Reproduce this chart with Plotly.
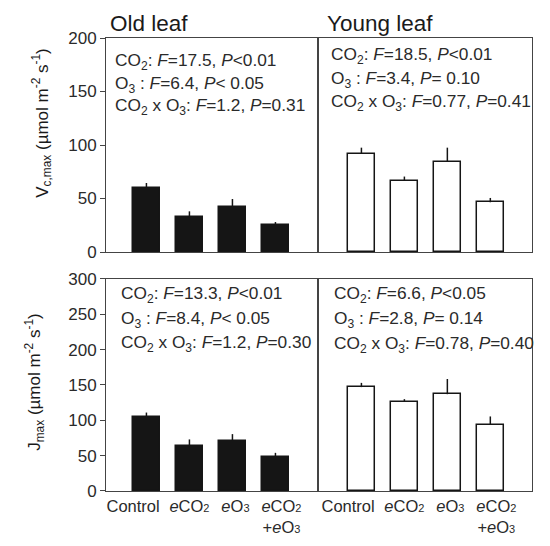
import plotly.graph_objects as go
from plotly.subplots import make_subplots

# -------------------------------------------------------------------
# DATA
# -------------------------------------------------------------------
CATEGORIES = ["Control", "eCO2", "eO3", "eCO2+eO3"]
TICK_LABELS = [
    "Control",
    "<i>e</i>CO<span style='font-size:11px'>2</span>",
    "<i>e</i>O<span style='font-size:11px'>3</span>",
    "<i>e</i>CO<span style='font-size:11px'>2</span><br>+<i>e</i>O<span style='font-size:11px'>3</span>",
]

OLD_VCMAX = [60, 32.5, 42, 25]
OLD_VCMAX_ERR = [4.5, 5.5, 7.5, 3]
YOUNG_VCMAX = [92, 66.5, 84.5, 46.5]
YOUNG_VCMAX_ERR = [5.5, 4, 13, 4]

OLD_JMAX = [105, 63.5, 71, 48.5]
OLD_JMAX_ERR = [6, 9.5, 9.5, 5.5]
YOUNG_JMAX = [147, 126, 137, 94]
YOUNG_JMAX_ERR = [6, 4, 21.5, 11.5]

STATS_OLD_VCMAX = [
    "CO<sub>2</sub>: <i>F</i>=17.5, <i>P</i>&lt;0.01",
    "O<sub>3</sub> : <i>F</i>=6.4, <i>P</i>&lt; 0.05",
    "CO<sub>2</sub> x O<sub>3</sub>: <i>F</i>=1.2, <i>P</i>=0.31",
]
STATS_YOUNG_VCMAX = [
    "CO<sub>2</sub>: <i>F</i>=18.5, <i>P</i>&lt;0.01",
    "O<sub>3</sub> : <i>F</i>=3.4, <i>P</i>= 0.10",
    "CO<sub>2</sub> x O<sub>3</sub>: <i>F</i>=0.77, <i>P</i>=0.41",
]
STATS_OLD_JMAX = [
    "CO<sub>2</sub>: <i>F</i>=13.3, <i>P</i>&lt;0.01",
    "O<sub>3</sub> : <i>F</i>=8.4, <i>P</i>&lt; 0.05",
    "CO<sub>2</sub> x O<sub>3</sub>: <i>F</i>=1.2, <i>P</i>=0.30",
]
STATS_YOUNG_JMAX = [
    "CO<sub>2</sub>: <i>F</i>=6.6, <i>P</i>&lt;0.05",
    "O<sub>3</sub> : <i>F</i>=2.8, <i>P</i>= 0.14",
    "CO<sub>2</sub> x O<sub>3</sub>: <i>F</i>=0.78, <i>P</i>=0.40",
]

# -------------------------------------------------------------------
# STYLE
# -------------------------------------------------------------------
FONT = "Liberation Sans, Arial, sans-serif"
TEXT_COLOR = "#2a2a2a"
FRAME_COLOR = "#444444"
BAR_WIDTH = 0.63
# labels in the original sit a little off the bar centres
TICK_SHIFT = [-0.31, 0.0, 0.07, 0.14]

X_POS = list(range(len(CATEGORIES)))

fig = make_subplots(rows=2, cols=2, horizontal_spacing=0, vertical_spacing=0)


def add_bars(row, col, values, errors, filled):
    fig.add_trace(
        go.Bar(
            x=X_POS,
            y=values,
            width=BAR_WIDTH,
            marker=dict(
                color="#151515" if filled else "white",
                line=dict(color="#151515", width=1.5),
            ),
            error_y=dict(
                type="data",
                array=errors,
                arrayminus=[0] * len(errors),
                symmetric=False,
                color="#151515",
                thickness=1.5,
                width=0,
            ),
            hovertext=CATEGORIES,
            showlegend=False,
        ),
        row=row,
        col=col,
    )


add_bars(1, 1, OLD_VCMAX, OLD_VCMAX_ERR, True)
add_bars(1, 2, YOUNG_VCMAX, YOUNG_VCMAX_ERR, False)
add_bars(2, 1, OLD_JMAX, OLD_JMAX_ERR, True)
add_bars(2, 2, YOUNG_JMAX, YOUNG_JMAX_ERR, False)

# -------------------------------------------------------------------
# AXES
# -------------------------------------------------------------------
X_DOMAINS = {1: [0, 0.4977], 2: [0.4977, 1]}
Y_DOMAINS = {1: [0.5276, 1], 2: [0, 0.468]}
X_RANGES = {1: [-0.94, 3.99], 2: [-1.01, 3.97]}
Y_RANGES = {1: [0, 200], 2: [0, 300]}

for row in (1, 2):
    for col in (1, 2):
        fig.update_xaxes(
            domain=X_DOMAINS[col],
            range=X_RANGES[col],
            tickvals=[p + s for p, s in zip(X_POS, TICK_SHIFT)],
            ticktext=TICK_LABELS,
            tickangle=0,
            showticklabels=(row == 2),
            ticks="",
            showline=True,
            mirror=True,
            linecolor=FRAME_COLOR,
            linewidth=1,
            showgrid=False,
            zeroline=False,
            tickfont=dict(family=FONT, size=16.5, color=TEXT_COLOR),
            row=row,
            col=col,
        )
        fig.update_yaxes(
            domain=Y_DOMAINS[row],
            range=Y_RANGES[row],
            dtick=50,
            showticklabels=(col == 1),
            ticks="outside" if col == 1 else "",
            ticklen=5,
            tickcolor=FRAME_COLOR,
            showline=True,
            mirror=True,
            linecolor=FRAME_COLOR,
            linewidth=1,
            showgrid=False,
            zeroline=False,
            tickfont=dict(family=FONT, size=17, color=TEXT_COLOR),
            row=row,
            col=col,
        )

# -------------------------------------------------------------------
# TEXT
# -------------------------------------------------------------------
def add_stats(lines, xref, yref, x, ys):
    for text, y in zip(lines, ys):
        fig.add_annotation(
            text=text,
            xref=xref + " domain",
            yref=yref + " domain",
            x=x,
            y=y,
            xanchor="left",
            yanchor="middle",
            showarrow=False,
            font=dict(family=FONT, size=17.3, color=TEXT_COLOR),
        )


add_stats(STATS_OLD_VCMAX, "x", "y", 0.035, [0.888, 0.785, 0.682])
add_stats(STATS_YOUNG_VCMAX, "x2", "y2", 0.05, [0.916, 0.808, 0.699])
add_stats(STATS_OLD_JMAX, "x3", "y3", 0.06, [0.925, 0.807, 0.698])
add_stats(STATS_YOUNG_JMAX, "x4", "y4", 0.064, [0.929, 0.811, 0.693])

for text, xref, x in [("Old leaf", "x", 0.01), ("Young leaf", "x2", 0.033)]:
    fig.add_annotation(
        text=text,
        xref=xref + " domain",
        yref="y domain",
        x=x,
        y=1,
        xanchor="left",
        yanchor="bottom",
        showarrow=False,
        font=dict(family=FONT, size=22.5, color="#1a1a1a"),
    )

# y axis titles
for text, x, y in [
    ("V<sub>c,max</sub> (µmol m<sup>-2</sup> s<sup>-1</sup>)", -0.150, 0.813),
    ("J<sub>max</sub> (µmol m<sup>-2</sup> s<sup>-1</sup>)", -0.168, 0.242),
]:
    fig.add_annotation(
        text=text,
        xref="paper",
        yref="paper",
        x=x,
        y=y,
        textangle=-90,
        xanchor="center",
        yanchor="middle",
        showarrow=False,
        font=dict(family=FONT, size=17, color="#1a1a1a"),
    )

# -------------------------------------------------------------------
# LAYOUT
# -------------------------------------------------------------------
fig.update_layout(
    width=550,
    height=546,
    margin=dict(l=98, r=26, t=30, b=63),
    plot_bgcolor="white",
    paper_bgcolor="white",
    bargap=0,
)

fig.write_html("out.html")
